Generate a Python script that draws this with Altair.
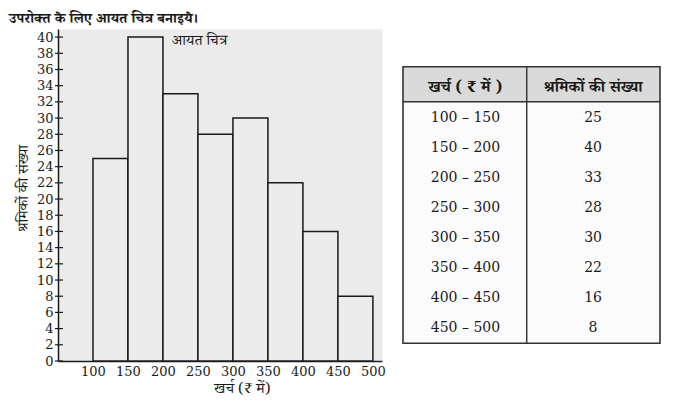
import altair as alt
import pandas as pd

# ---- data ----
bin_start = [100, 150, 200, 250, 300, 350, 400, 450]
bin_end = [150, 200, 250, 300, 350, 400, 450, 500]
workers = [25, 40, 33, 28, 30, 22, 16, 8]
x_ticks = [100, 150, 200, 250, 300, 350, 400, 450, 500]
y_ticks = list(range(0, 41, 2))
chart_title = ["उपरोक्त के लिए आयत चित्र बनाइये।"]
x_title = "खर्च (₹ में)"
y_title = "श्रमिकों की संख्या"
bar_label = ["आयत चित्र"]
table_headers = ["खर्च ( ₹ में )", "श्रमिकों की संख्या"]

DEV = "Noto Serif Devanagari, Noto Sans Devanagari, Lohit Devanagari, serif"
NUM = "DejaVu Serif"
INK = "#1a1a1a"

hist = pd.DataFrame({"start": bin_start, "end": bin_end, "count": workers, "base": [0] * len(workers)})
ticks_df = pd.DataFrame({"v": y_ticks})
label_df = pd.DataFrame({"label": bar_label})
title_df = pd.DataFrame({"t": chart_title})
rows_df = pd.DataFrame({
    "interval": [f"{a} – {b}" for a, b in zip(bin_start, bin_end)],
    "count": [str(v) for v in workers],
    "row": list(range(1, len(workers) + 1)),
})
head_df = pd.DataFrame({"text": table_headers, "col": [0.486, 1.479]})
frame_df = pd.DataFrame({"x0": [0.0], "x1": [2.0], "y0": [-0.72], "y1": [8.5], "yh": [0.447], "xd": [0.963]})

# ---- histogram ----
xs = alt.Scale(domain=[50, 513], nice=False, zero=False)
ys = alt.Scale(domain=[0, 41], nice=False, zero=False)

x_axis = alt.Axis(
    values=x_ticks, title=x_title, ticks=False, tickSize=0, labelPadding=4,
    grid=False, titleX=184, titleY=31, titleBaseline="alphabetic",
    titleFont=DEV, titleFontSize=15, titleFontWeight="normal", titleColor=INK)
y_axis = alt.Axis(
    values=y_ticks, title=y_title, ticks=False, tickSize=0, labelPadding=5,
    grid=False, titleX=-36, titleY=159, titleAngle=-90, titleBaseline="middle",
    titleFont=DEV, titleFontSize=15, titleFontWeight="normal", titleColor=INK)

bars = alt.Chart(hist).mark_rect(fill="#ececec", stroke=INK, strokeWidth=1.5).encode(
    x=alt.X("start:Q", scale=xs, axis=x_axis),
    x2="end:Q",
    y=alt.Y("count:Q", scale=ys, axis=y_axis),
    y2="base:Q",
)

cross_ticks = alt.Chart(ticks_df).mark_rule(color=INK, strokeWidth=1.2).encode(
    y=alt.Y("v:Q", scale=ys, axis=y_axis),
    x=alt.XDatum(45.7, scale=xs, axis=x_axis),
    x2=alt.X2Datum(57.1),
)

label = alt.Chart(label_df).mark_text(
    align="left", baseline="middle", font=DEV, fontSize=15, color=INK
).encode(
    x=alt.XDatum(213, scale=xs, axis=x_axis),
    y=alt.YDatum(39.6, scale=ys, axis=y_axis),
    text="label:N",
)

heading = alt.Chart(title_df).mark_text(
    align="left", baseline="alphabetic", font=DEV, fontSize=14.5, fontWeight="bold", color=INK
).encode(
    x=alt.XDatum(-20, scale=xs, axis=x_axis),
    y=alt.YDatum(41.68, scale=ys, axis=y_axis),
    text="t:N",
)

hist_layer = alt.layer(bars, cross_ticks, label, heading)

# ---- table ----
tx = alt.Scale(domain=[0, 2], range=[345, 602], nice=False, zero=False)
ty = alt.Scale(domain=[0, 8], range=[59.3, 299.3], nice=False, zero=False)

body = alt.Chart(frame_df).mark_rect(fill="#fbfbfb").encode(
    x=alt.X("x0:Q", scale=tx, axis=None), x2="x1:Q",
    y=alt.Y("y0:Q", scale=ty, axis=None), y2="y1:Q",
)
header_bg = alt.Chart(frame_df).mark_rect(fill="#dadada").encode(
    x=alt.X("x0:Q", scale=tx, axis=None), x2="x1:Q",
    y=alt.Y("y0:Q", scale=ty, axis=None), y2="yh:Q",
)
divider = alt.Chart(frame_df).mark_rule(color="#333", strokeWidth=1.4).encode(
    x=alt.X("xd:Q", scale=tx, axis=None),
    y=alt.Y("y0:Q", scale=ty, axis=None), y2="y1:Q",
)
header_line = alt.Chart(frame_df).mark_rule(color="#333", strokeWidth=1.4).encode(
    x=alt.X("x0:Q", scale=tx, axis=None), x2="x1:Q",
    y=alt.Y("yh:Q", scale=ty, axis=None),
)
border = alt.Chart(frame_df).mark_rect(fillOpacity=0, stroke="#333", strokeWidth=1.6).encode(
    x=alt.X("x0:Q", scale=tx, axis=None), x2="x1:Q",
    y=alt.Y("y0:Q", scale=ty, axis=None), y2="y1:Q",
)
head_text = alt.Chart(head_df).mark_text(
    font=DEV, fontSize=16, fontWeight="bold", color=INK, baseline="middle"
).encode(
    x=alt.X("col:Q", scale=tx, axis=None),
    y=alt.YDatum(-0.05, scale=ty, axis=None),
    text="text:N",
)
left_text = alt.Chart(rows_df).mark_text(font=NUM, fontSize=14, color=INK, baseline="middle").encode(
    x=alt.XDatum(0.486, scale=tx, axis=None),
    y=alt.Y("row:Q", scale=ty, axis=None),
    text="interval:N",
)
right_text = alt.Chart(rows_df).mark_text(font=NUM, fontSize=14, color=INK, baseline="middle").encode(
    x=alt.XDatum(1.479, scale=tx, axis=None),
    y=alt.Y("row:Q", scale=ty, axis=None),
    text="count:N",
)
table_layer = alt.layer(body, header_bg, divider, header_line, border, head_text, left_text, right_text)

chart = alt.layer(hist_layer, table_layer).resolve_scale(
    x="independent", y="independent"
).properties(
    width=324,
    height=332,
    autosize=alt.AutoSizeParams(type="none"),
    padding={"left": 50, "top": 21, "right": 283, "bottom": 42},
    background="white",
).configure_view(
    fill="#ebebeb", strokeOpacity=0
).configure_axis(
    labelFont=NUM, labelFontSize=13, labelColor=INK,
    domainColor=INK, domainWidth=1.5,
)

chart.save("out.html", embed_options={"renderer": "svg", "actions": False})
